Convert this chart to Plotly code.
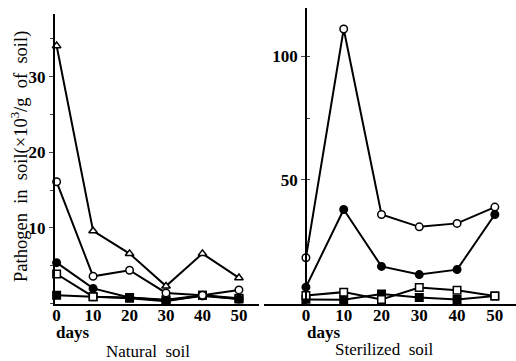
import plotly.graph_objects as go

days = [0, 10, 20, 30, 40, 50]

# Natural soil
nat_tri_open = [34.1, 9.6, 6.6, 2.3, 6.6, 3.4]
nat_circ_open = [16.1, 3.6, 4.4, 1.4, 1.1, 1.8]
nat_circ_fill = [5.4, 2.0, 0.8, 0.4, 1.0, 0.6]
nat_sq_open = [3.9, 0.9, 0.8, 0.5, 1.1, 0.7]
nat_sq_fill = [1.1, 0.9, 0.7, 0.3, 1.1, 0.6]

# Sterilized soil
ste_circ_open = [18.5, 111, 36, 31, 32.4, 39]
ste_circ_fill = [6.6, 38, 15, 11.7, 13.7, 36]
ste_sq_open = [3.2, 4.6, 1.6, 6.5, 5.4, 3.0]
ste_sq_fill = [1.6, 1.5, 3.8, 2.4, 1.6, 3.0]

left_ticks = [10, 20, 30]
right_ticks = [50, 100]
x_ticks = [0, 10, 20, 30, 40, 50]

W, H = 516, 361
FONT = "Liberation Serif"

fig = go.Figure()

def add(y, sym, filled, xa, ya):
    fig.add_trace(go.Scatter(
        x=days, y=y, mode="lines+markers", xaxis=xa, yaxis=ya,
        line=dict(color="black", width=2),
        marker=dict(symbol=sym, size=7.5,
                    color="black" if filled else "white",
                    line=dict(color="black", width=1.5)),
        cliponaxis=False, showlegend=False))

add(nat_sq_fill, "square", True, "x", "y")
add(nat_sq_open, "square", False, "x", "y")
add(nat_circ_fill, "circle", True, "x", "y")
add(nat_circ_open, "circle", False, "x", "y")
add(nat_tri_open, "triangle-up", False, "x", "y")

add(ste_sq_fill, "square", True, "x2", "y2")
add(ste_sq_open, "square", False, "x2", "y2")
add(ste_circ_fill, "circle", True, "x2", "y2")
add(ste_circ_open, "circle", False, "x2", "y2")

tickfont = dict(family=FONT, size=17, color="black", weight="bold")
bottom = 1 - 303.5 / H

fig.update_layout(
    width=W, height=H, margin=dict(l=0, r=0, t=0, b=0),
    paper_bgcolor="white", plot_bgcolor="white",
    xaxis=dict(domain=[53 / W, 258 / W], range=[-0.5, 55.5],
               tickvals=x_ticks, ticks="", showgrid=False, zeroline=False,
               showline=True, linecolor="black", linewidth=2,
               tickfont=tickfont, anchor="y", ticklabelstandoff=-5),
    yaxis=dict(domain=[bottom, 1 - 14 / H], range=[0, 38.3],
               tickvals=left_ticks, ticks="outside", ticklen=4, tickwidth=1,
               minor=dict(dtick=5, ticks="outside", ticklen=3, tickwidth=1),
               showgrid=False, zeroline=False, showline=True,
               linecolor="black", linewidth=2, tickfont=tickfont,
               anchor="x"),
    xaxis2=dict(domain=[263 / W, 1], range=[-11.1, 55.6],
                tickvals=x_ticks, ticks="", showgrid=False, zeroline=False,
                showline=True, linecolor="black", linewidth=2,
                tickfont=tickfont, anchor="y2", ticklabelstandoff=-5),
    yaxis2=dict(domain=[bottom, 1 - 8 / H], range=[0, 119.5],
                tickvals=right_ticks, ticks="outside", ticklen=4, tickwidth=1,
                minor=dict(dtick=25, ticks="inside", ticklen=3, tickwidth=1),
                showgrid=False, zeroline=False, showline=True,
                linecolor="black", linewidth=1.5, tickfont=tickfont,
                anchor="free", position=305 / W),
)

def ann(text, x, y, size=15, angle=0, bold=False):
    fig.add_annotation(text=text, x=x / W, y=1 - y / H, xref="paper",
                       yref="paper", showarrow=False, textangle=angle,
                       font=dict(family=FONT, size=size, color="black",
                                 weight="bold" if bold else "normal"),
                       xanchor="center", yanchor="middle")

ann("days", 71, 332, 17, bold=True)
ann("days", 323, 332, 17, bold=True)
ann("Natural  soil", 147, 351, 17)
ann("Sterilized  soil", 383, 349, 17)
ann("Pathogen  in  soil(×10<sup>3</sup>/g  of  soil)", 17, 156, 18.5, -90)

fig.write_html("out.html")
